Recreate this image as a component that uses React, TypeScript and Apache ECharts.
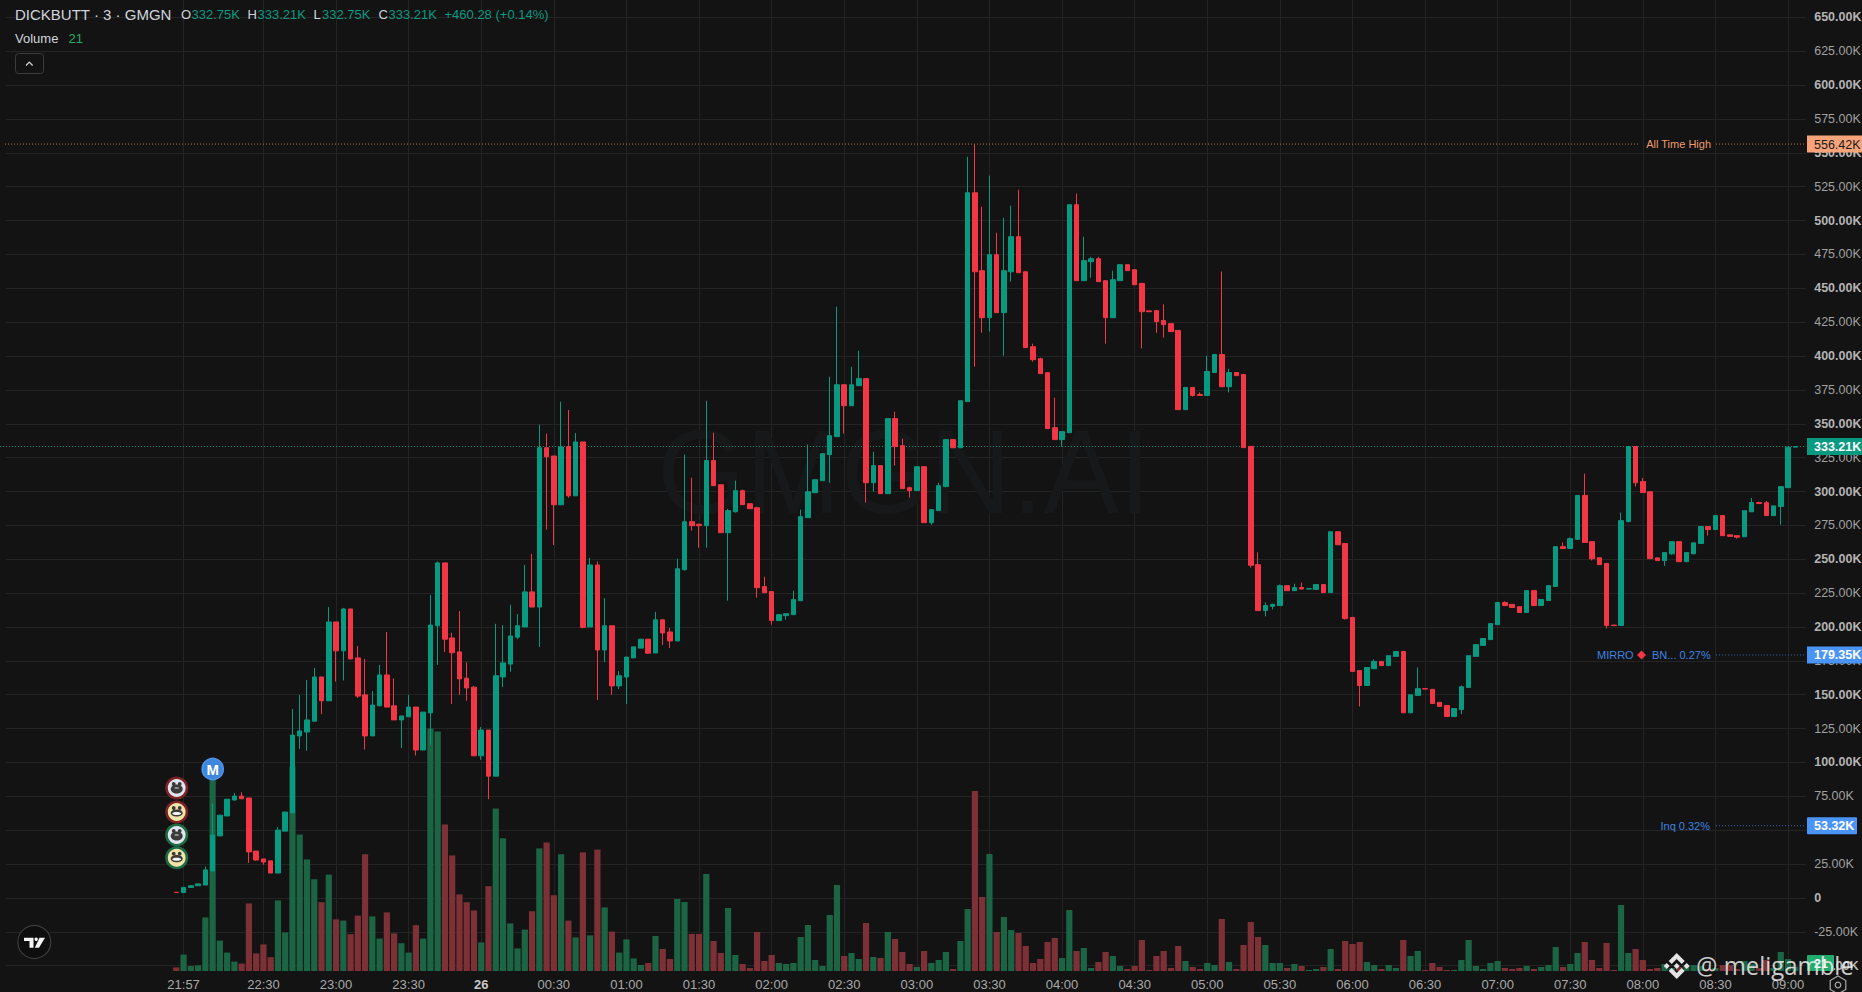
import React, { useEffect, useRef } from "react";
import * as echarts from "echarts";

// Values are in thousands (K)
const opens = [
  4.2,4,7.8,9,9.5,19.9,45.8,60.5,72.3,75.2,
  73.8,34.6,28.8,27.4,18.4,49.3,62.8,119.6,122.5,130.5,
  163.1,145.5,203.7,182.4,213.3,177.2,149.9,119.6,141.8,164.6,
  141.8,131.4,133.7,140.9,109.2,136.6,200.9,247.3,191.9,181.6,
  162.2,155.6,104.9,123.9,89.9,163.1,172.6,192.5,200,225.9,
  214.7,332.3,326.2,290.2,333.1,296.8,336.6,200,245.8,183,
  200.9,156.5,163.1,177.2,184.4,191,180.8,205.3,196.3,189.7,
  242.3,277.7,275.8,274.8,322.8,305,269.6,285.1,300.6,291,
  288,229.8,226.1,204.7,208.4,209.1,219.4,280.7,299.1,308,
  327.2,340.5,378.8,363.3,378.1,383.3,306.5,319.1,298.4,353.8,
  333.8,302.8,300.6,318.3,277,285.9,303.6,338.3,332.3,366.3,
  520.5,463,428.3,474.8,432,462.2,488.1,462.2,406.9,398,
  387.7,347.1,338.3,343.4,511.7,455.6,469.6,471.8,455.6,428.3,
  455.6,467.4,463.7,453.6,433.3,433.5,426.2,423.9,418.9,360.4,
  376.8,371.7,370.9,387.8,401.1,377.3,387.8,386.4,333.3,246,
  212.1,215.3,215.8,230.5,226.8,229.1,228,227.7,231.3,225.4,
  270.3,261.6,207.1,167.8,156.8,169.2,174.6,171.5,178.3,181.9,
  136.7,149.5,154.5,154,144.4,142.1,133.9,139,155.4,178.3,
  186.4,190.7,201.7,218.1,216.7,215,210.7,226.8,215.8,219.5,
  229.9,259.3,257.9,264.7,297.1,263,251.1,246.9,201.4,201.1,
  277.7,333.2,307.3,299.8,251,249,254,263,248.2,254,
  261.6,274.1,271.9,282.2,268,267.4,266.6,285,291.9,291.7,
  282.2,288.9,302.8,332.75,
];
const closes = [
  4,7.8,9,10.4,20.7,46.4,61.1,72.9,75.2,73.2,
  34,28,26.5,18.4,50.1,63.4,120.2,123.3,131.4,163.1,
  145.5,203.7,182.4,213.3,176.4,149,119.6,142.4,164.6,140.9,
  131.4,134.3,140.9,109.2,137.2,201.4,247.3,191,181,161.7,
  155,104.9,123.9,89.9,164,173.5,193.4,200.9,225.9,214.7,
  332.3,325.6,290.2,332.9,296.8,336.6,199.7,245.8,183,200.9,
  156.5,164,177.8,185.3,191,180.7,205.3,195.6,189.7,243,
  277.7,274.8,274.8,322.8,304.3,269.6,285.9,300.6,290.3,287.3,
  229,225.3,204.7,209.1,209.8,220.2,281.4,299.9,308.7,327.9,
  341.2,378.8,363.3,378.8,383.3,306.5,319.1,298.4,353.8,333.1,
  302.1,300.6,318.3,277,286.6,304.3,338.3,332.3,367,520.5,
  462.2,428.3,474.8,432,463,488.1,461.5,406.2,397.3,387,
  346.4,338.3,344.2,511.7,455.6,470.4,471.8,454.9,428.3,456.3,
  467.4,463,452.6,432.7,432.7,425.4,423.1,418,360.4,376.8,
  370.9,370.9,388.6,401.1,377.3,387.8,385.5,332.4,245.5,212.1,
  215.8,216.7,230.5,226.8,229.1,228,228.3,231.3,225.4,270.3,
  260.7,206.2,167.2,156.8,170.1,174.6,171.5,178.8,181.9,136.7,
  150,154.5,154.2,143.5,141.3,133.9,139.8,155.9,178.8,187,
  191.5,202.5,218.1,215.8,214.4,210.7,226.8,215.8,220.3,230.5,
  259.3,257.9,265.2,297.1,262.4,250.3,246,201.1,201,278.5,
  333.2,306.4,299.2,250.4,249,254.9,263,248.2,254.9,262.1,
  274.1,271.9,282.2,267.4,266.9,266.3,285.8,291.9,291.1,282.2,
  289.4,303.6,332.75,333.21,
];
const highs = [
  4.2,7.8,9,10.4,23.3,69.7,61.1,72.9,77.5,78,
  73.8,34.6,28.8,27.4,52.2,63.4,139.5,149.9,160.8,169.7,
  163.1,214.7,203.7,214.1,213.3,185.9,176.4,152.7,172,196.3,
  162,134.3,149.9,140.9,137.2,223.6,248.4,247.3,195.7,211.8,
  174,156.5,126.2,123.9,202.3,201.4,216.4,209.5,245.8,253.9,
  349.3,342.7,326.2,366.3,360.2,343.2,336.6,251,248.4,221.3,
  200.9,167.4,177.8,185.9,191,191,211.2,205.3,199.3,250.4,
  327.2,310.2,276.3,367,343.4,305,287.3,308,301.4,291,
  288.8,237.1,226.1,209.1,209.8,226.8,286.6,334.6,308.7,327.9,
  384.7,436.4,378.8,392.1,403.9,383.3,329.4,319.1,353.8,358.9,
  339,303.6,318.3,318.3,286.6,306.5,338.3,338.3,367,547.1,
  556.42,510.2,533.1,491,502.1,511,522.8,462.2,409.1,398.8,
  387.7,369.2,344.2,511.7,519.8,488.1,473.3,473.3,455.6,463,
  467.4,467.4,463.7,453.6,433.3,433.5,438.1,423.9,418.9,376.8,
  376.8,373.1,400.2,401.1,462.4,390.6,387.8,386.4,333.3,255.1,
  218.1,217.2,231.3,230.5,231.9,232.8,228.3,231.3,231.3,270.3,
  270.3,261.6,207.1,167.8,170.1,176,174.6,178.8,181.9,182.5,
  150,170.1,154.5,154,144.4,142.1,139.8,156.8,178.8,187,
  191.5,202.5,218.1,218.9,216.7,215,226.8,226.8,220.3,230.5,
  259.3,262.4,266.1,297.1,313.2,263,251.1,246.9,201.4,284.4,
  333.2,333.2,310,299.8,251.5,254.9,263,263,254.9,262.1,
  274.1,274.1,282.2,282.2,268,267.4,285.8,295.3,292.5,293,
  289.4,303.6,332.75,333.21,
];
const lows = [
  4,4,7.8,9,9.5,19.9,45.8,60.5,71.8,73.2,
  25.9,27.5,24.5,18.4,18.4,49.3,62.8,110,108.6,130.5,
  135.7,145.5,159.7,160.5,176.4,147.6,109.5,119.6,141.8,140.9,
  131.4,110.7,133.7,105.2,109.2,113,172,181.6,143.2,149.9,
  145.5,104.9,102,72.9,89.9,155.6,166.9,191,200,214.7,
  185.3,271.8,260.5,290.2,295.4,296.8,199,200,146.1,174.1,
  149.9,154.2,143.2,177.2,184.4,180.2,180.8,186.7,184.5,189.7,
  241.6,271.1,258.5,258.5,304.3,269.6,219.4,284.4,290.3,287.3,
  221.6,225.3,201.7,204.7,205.4,209.1,219.4,280.7,299.1,308,
  306.5,340.5,342.7,363.3,378.1,291.8,299.9,298.4,298.4,319.1,
  302.1,295.4,300.6,277,275.5,285.9,303.6,332.3,332.3,366.3,
  392.1,417.2,418,432,400.2,454.9,461.5,406.2,395.8,387,
  346.4,338.3,333.1,343.4,455.6,455.6,457.8,454.9,409.1,428.3,
  455.6,463,452.6,405.6,432.7,417.2,413.5,418,360.4,360.4,
  370,370.9,370.9,387.8,377.3,373.1,385.5,332.4,243.8,212.1,
  207.9,213,215.8,226.8,226.8,228,228,227.7,225.4,225.4,
  260.7,205.4,167.2,141.3,156.8,169.2,171.5,171.5,178.3,136.7,
  136.2,149.5,154.2,143.5,141.3,133.9,133.9,135.6,155.4,178.3,
  186.4,190.7,201.7,215.8,214.4,210.7,210.7,215.8,215.8,219.5,
  229.9,257.9,257.9,264.7,262.4,249.1,246,198.9,201,201.1,
  277.7,303.6,299.2,250.4,249,245.1,253.2,248.2,248.2,254,
  261.6,267.4,271.9,267.4,266.9,265.2,266.6,285,291.1,282.2,
  282.2,275.5,302.8,332.75,
];
const volumes = [
  18,82,25,28,268,975,152,92,47,37,
  338,88,133,69,353,193,1022,683,558,459,
  344,482,258,252,184,277,584,273,162,293,
  188,139,92,229,162,1212,1198,732,578,383,
  344,303,143,424,812,664,238,113,207,299,
  613,642,379,584,252,168,593,178,607,318,
  197,92,158,63,30,40,
  175,110,60,360,345,185,185,485,150,90,
  315,80,35,15,195,50,80,40,35,40,
  170,230,55,25,280,430,75,90,60,240,
  70,65,195,160,95,35,20,100,40,55,
  95,10,150,310,900,370,585,195,270,205,
  190,125,40,60,145,165,65,305,100,115,
  15,45,95,75,25,10,25,155,5,75,
  100,15,125,50,20,10,40,30,260,45,
  10,130,245,170,
  130,40,40,15,35,25,5,10,20,110,
  10,150,135,145,45,30,10,30,15,155,
  75,100,5,40,20,5,5,55,155,25,
  10,40,50,15,10,15,25,10,20,30,
  120,20,35,90,145,55,15,140,5,330,
  90,110,55,10,15,35,
  15,20,25,30,25,10,15,30,30,10,
  50,35,15,55,15,95,60,21,
];
const firstBarTime = "21:54";
const barMinutes = 3;
const tickLabels = ["21:57","22:30","23:00","23:30","26","00:30","01:00","01:30","02:00","02:30","03:00","03:30","04:00","04:30","05:00","05:30","06:00","06:30","07:00","07:30","08:00","08:30","09:00"];
const priceTicksMin = -50;
const priceTicksMax = 650;
const priceInterval = 25;
const allTimeHigh = 556.42;
const lastPrice = 333.21;
const mirroPrice = 179.35;
const inqPrice = 53.32;

const UP = "#089981";
const DOWN = "#f23645";
const BG = "#131313";
const GRID = "#242424";
const LEFT_PAD = 23;
const RIGHT_PAD = 1;
const FONT = '"Liberation Sans", Arial, sans-serif';

function timeCategories(): string[] {
  const [h0, m0] = firstBarTime.split(":").map(Number);
  const start = h0 * 60 + m0;
  const out: string[] = [];
  for (let i = 0; i < opens.length; i++) {
    const t = (start + i * barMinutes) % 1440;
    const hh = String(Math.floor(t / 60)).padStart(2, "0");
    const mm = String(t % 60).padStart(2, "0");
    out.push(hh + ":" + mm);
  }
  return out;
}

function fmtPrice(v: number): string {
  if (v === 0) return "0";
  return v.toFixed(2) + "K";
}

function txt(x: number, y: number, text: string, fill: string, font: string, textAlign = "left", extra: any = {}) {
  return {
    type: "text",
    x,
    y,
    z: 20,
    silent: true,
    style: { text, fill, font, textAlign, textVerticalAlign: "middle", ...extra },
  };
}

function rectEl(x: number, y: number, w: number, h: number, fill: string, r = 0, z = 15, stroke?: string) {
  return {
    type: "rect",
    z,
    silent: true,
    shape: { x, y, width: w, height: h, r },
    style: stroke ? { fill, stroke, lineWidth: 1 } : { fill },
  };
}

function hLine(x1: number, x2: number, y: number, stroke: string, z = 1) {
  return {
    type: "line",
    z,
    silent: true,
    shape: { x1, y1: y, x2, y2: y },
    style: { stroke, lineWidth: 1, lineDash: [1, 2] },
  };
}

function poly(points: number[][], fill: string, cx = 0, cy = 0, z = 25, opacity = 1) {
  return {
    type: "polygon",
    z,
    silent: true,
    shape: { points: points.map(([a, b]) => [a + cx, b + cy]) },
    style: { fill, opacity },
  };
}

function avatar(cx: number, cy: number, border: string, face: string, cream: boolean) {
  const inner: any[] = [
    { type: "circle", z: 12, silent: true, shape: { cx, cy, r: 10.2 }, style: { fill: face, stroke: border, lineWidth: 2.6 } },
    { type: "ellipse", z: 13, silent: true, shape: { cx, cy: cy + 1, rx: 6, ry: cream ? 3.6 : 4.6 }, style: { fill: "#3b3b3b" } },
    { type: "circle", z: 13, silent: true, shape: { cx: cx - 3, cy: cy - 4, r: 1.9 }, style: { fill: "#3b3b3b" } },
    { type: "circle", z: 13, silent: true, shape: { cx: cx + 3, cy: cy - 4, r: 1.9 }, style: { fill: "#3b3b3b" } },
  ];
  if (cream) {
    inner.push({ type: "ellipse", z: 14, silent: true, shape: { cx, cy: cy + 1.5, rx: 4.5, ry: 1.5 }, style: { fill: "#f4f4f4" } });
  } else {
    inner.push({ type: "rect", z: 14, silent: true, shape: { x: cx - 2, y: cy - 1, width: 4, height: 2 }, style: { fill: "#8d8d8d" } });
  }
  return inner;
}

export default function App() {
  const ref = useRef<HTMLDivElement>(null);

  useEffect(() => {
    document.body.style.margin = "0";
    document.body.style.background = BG;
    const chart = echarts.init(ref.current!, undefined, { renderer: "svg" });

    const times = timeCategories();
    const cats = [
      ...Array.from({ length: LEFT_PAD }, (_, i) => "p" + i),
      ...times,
      ...Array.from({ length: RIGHT_PAD }, (_, i) => "q" + i),
    ];
    const tickIdx = new Set<number>();
    const displayed: Record<number, string> = {};
    tickLabels.forEach((t) => {
      const name = t === "26" ? "00:00" : t;
      const k = times.indexOf(name);
      if (k >= 0) {
        tickIdx.add(k + LEFT_PAD);
        displayed[k + LEFT_PAD] = t;
      }
    });

    const padL = Array.from({ length: LEFT_PAD }, () => ["-", "-", "-", "-"]);
    const padR = Array.from({ length: RIGHT_PAD }, () => ["-", "-", "-", "-"]);
    const candleData = [
      ...padL,
      ...opens.map((o, i) => [o, closes[i], lows[i], highs[i]]),
      ...padR,
    ];
    const volData = [
      ...padL.map(() => "-"),
      ...volumes.map((v, i) => ({
        value: v,
        itemStyle: { color: closes[i] >= opens[i] ? "#1b6545" : "#7d3137" },
      })),
      ...padR.map(() => "-"),
    ];

    const gridLeft = 5.7;
    const gridWidth = 1800.5;

    const axisHidden = {
      axisLine: { show: false },
      axisTick: { show: false },
    };

    chart.setOption({
      animation: false,
      backgroundColor: BG,
      textStyle: { fontFamily: FONT },
      grid: [
        { left: gridLeft, width: gridWidth, top: 17.3, height: 948.4, outerBoundsMode: "none" },
        { left: gridLeft, width: gridWidth, top: 0, height: 971, outerBoundsMode: "none" },
      ],
      xAxis: [
        {
          type: "category",
          gridIndex: 0,
          data: cats,
          boundaryGap: true,
          show: false,
        },
        {
          type: "category",
          gridIndex: 1,
          data: cats,
          boundaryGap: true,
          ...axisHidden,
          axisLabel: {
            show: true,
            interval: (i: number) => tickIdx.has(i),
            margin: 7,
            color: "#a9a9a9",
            fontSize: 13,
            fontFamily: FONT,
            hideOverlap: false,
            formatter: (_: string, i: number) => {
              const t = displayed[i] ?? "";
              return t === "26" ? "{b|26}" : t;
            },
            rich: { b: { fontWeight: "bold", color: "#c8c8c8", fontSize: 13, fontFamily: FONT } },
          },
          splitLine: {
            show: true,
            interval: (i: number) => tickIdx.has(i),
            alignWithLabel: true,
            lineStyle: { color: GRID, width: 1 },
          },
        },
      ],
      yAxis: [
        {
          type: "value",
          gridIndex: 0,
          position: "right",
          min: priceTicksMin,
          max: priceTicksMax,
          interval: priceInterval,
          ...axisHidden,
          axisLabel: {
            margin: 8,
            align: "left",
            fontFamily: FONT,
            formatter: (v: number) => {
              const s = fmtPrice(v);
              return v % 50 === 0 ? `{b|${s}}` : `{r|${s}}`;
            },
            rich: {
              b: { fontWeight: "bold", color: "#b4b4b4", fontSize: 12.5, fontFamily: FONT },
              r: { color: "#a0a0a0", fontSize: 12.5, fontFamily: FONT },
            },
          },
          splitLine: { show: true, lineStyle: { color: GRID, width: 1 } },
        },
        {
          type: "value",
          gridIndex: 1,
          min: 0,
          max: 4855,
          show: false,
          splitLine: { show: false },
        },
      ],
      series: [
        {
          name: "Volume",
          type: "bar",
          xAxisIndex: 1,
          yAxisIndex: 1,
          barWidth: 6.2,
          z: 1,
          data: volData,
        },
        {
          name: "Price",
          type: "candlestick",
          xAxisIndex: 0,
          yAxisIndex: 0,
          barWidth: 5,
          z: 3,
          itemStyle: {
            color: UP,
            color0: DOWN,
            borderColor: UP,
            borderColor0: DOWN,
            borderWidth: 1,
          },
          data: candleData,
        },
      ],
    });

    const py = (v: number) => chart.convertToPixel({ yAxisIndex: 0 }, v) as number;
    const yAth = py(allTimeHigh);
    const yLast = py(lastPrice);
    const yMirro = py(mirroPrice);
    const yInq = py(inqPrice);
    const tagFont = `12.5px ${FONT}`;
    const tagBold = `bold 12.5px ${FONT}`;
    const smallFont = `11px ${FONT}`;
    const labelBlue = "#3f83e0";

    const binance: any[] = [
      poly([[0,-13],[8,-5],[5,-2],[0,-7],[-5,-2],[-8,-5]], "#e4e4e4", 1676.7, 966, 30),
      poly([[0,13],[8,5],[5,2],[0,7],[-5,2],[-8,5]], "#e4e4e4", 1676.7, 966, 30),
      poly([[-13,0],[-10,-3],[-7,0],[-10,3]], "#e4e4e4", 1676.7, 966, 30),
      poly([[13,0],[10,-3],[7,0],[10,3]], "#e4e4e4", 1676.7, 966, 30),
      poly([[0,-3],[3,0],[0,3],[-3,0]], "#e4e4e4", 1676.7, 966, 30),
    ];

    const hex = [] as number[][];
    for (let k = 0; k < 6; k++) {
      const a = (Math.PI / 3) * k + Math.PI / 6;
      hex.push([1838 + 9 * Math.cos(a), 985 + 9 * Math.sin(a)]);
    }

    chart.setOption({
      graphic: {
        elements: [
          // big faint watermark
          {
            type: "text",
            x: 904,
            y: 472,
            z: 0,
            silent: true,
            scaleX: 0.965,
            style: {
              text: "GMGN.AI",
              fill: "#17181a",
              font: `118px ${FONT}`,
              textAlign: "center",
              textVerticalAlign: "middle",
            },
          },
          // price lines
          hLine(5, 1639, yAth, "#b56f4b", 4),
          hLine(1716, 1804, yAth, "#b56f4b", 4),
          hLine(0, 1806, yLast, "#0b8a74", 1),
          hLine(1716, 1804, yMirro, "#3468b0", 4),
          hLine(1716, 1804, yInq, "#3468b0", 4),

          // inline labels
          txt(1711, yAth - 0.5, "All Time High", "#ee9a70", smallFont, "right"),
          txt(1597, yMirro, "MIRRO", labelBlue, smallFont),
          poly([[0,-4.5],[4.5,0],[0,4.5],[-4.5,0]], "#f23645", 1641.5, yMirro),
          txt(1652, yMirro, "BN... 0.27%", labelBlue, smallFont),
          txt(1710, yInq, "Inq 0.32%", labelBlue, smallFont, "right"),

          // right tags
          rectEl(1807, yAth - 8.5, 55, 17, "#f7a47a"),
          txt(1814, yAth + 0.5, "556.42K", "#1a1a1a", tagFont),
          rectEl(1807, yLast - 8.5, 55, 17, UP),
          txt(1814, yLast + 0.5, "333.21K", "#ffffff", tagBold),
          rectEl(1807, yMirro - 8.5, 55, 17, "#4a94f8"),
          txt(1814, yMirro + 0.5, "179.35K", "#ffffff", tagBold),
          rectEl(1807, yInq - 8.5, 50, 17, "#4a94f8", 1),
          txt(1814, yInq + 0.5, "53.32K", "#ffffff", tagBold),
          rectEl(1807, 955, 27, 16, "#22ab6a", 1),
          txt(1814, 963.5, "21", "#ffffff", tagBold),

          // legend
          txt(15, 14.5, "DICKBUTT · 3 · GMGN", "#d1d4dc", `15px ${FONT}`),
          txt(181, 14.5, "O", "#d1d4dc", `13px ${FONT}`),
          txt(191.5, 14.5, "332.75K", UP, `13px ${FONT}`),
          txt(247.5, 14.5, "H", "#d1d4dc", `13px ${FONT}`),
          txt(257.5, 14.5, "333.21K", UP, `13px ${FONT}`),
          txt(313.5, 14.5, "L", "#d1d4dc", `13px ${FONT}`),
          txt(322, 14.5, "332.75K", UP, `13px ${FONT}`),
          txt(378.5, 14.5, "C", "#d1d4dc", `13px ${FONT}`),
          txt(388.5, 14.5, "333.21K", UP, `13px ${FONT}`),
          txt(444.5, 14.5, "+460.28 (+0.14%)", UP, `13px ${FONT}`),
          txt(15, 38.5, "Volume", "#d1d4dc", `13px ${FONT}`),
          txt(68.5, 38.5, "21", "#22ab6a", `13px ${FONT}`),
          rectEl(15.5, 53.5, 28, 20, BG, 3, 15, "#3c3c3c"),
          {
            type: "polyline",
            z: 16,
            silent: true,
            shape: { points: [[26, 65.5], [29.3, 62], [32.6, 65.5]] },
            style: { stroke: "#d1d4dc", lineWidth: 1.2, fill: "none" },
          },

          // M marker
          { type: "circle", z: 16, silent: true, shape: { cx: 212.7, cy: 769, r: 10.6 }, style: { fill: "#3f86dd", stroke: "#4f94e8", lineWidth: 1.6 } },
          txt(212.7, 769.5, "M", "#ffffff", `bold 15px ${FONT}`, "center"),

          // avatars
          ...avatar(176.7, 788, "#7a2226", "#dfe4ee", false),
          ...avatar(176.7, 812, "#7a2226", "#f2e3a6", true),
          ...avatar(176.7, 835, "#1c6b45", "#dfe4ee", false),
          ...avatar(176.7, 857.7, "#1c6b45", "#f2e3a6", true),

          // TradingView badge
          { type: "circle", z: 16, silent: true, shape: { cx: 34.3, cy: 942, r: 16.5 }, style: { fill: "#0e0e0e", stroke: "#3c3c3c", lineWidth: 1.2 } },
          poly([[24,937.7],[33.5,937.7],[33.5,947.7],[29.5,947.7],[29.5,941],[24,941]], "#f4f4f4", 0, 0, 17),
          { type: "circle", z: 17, silent: true, shape: { cx: 36.2, cy: 939.2, r: 1.7 }, style: { fill: "#f4f4f4" } },
          poly([[39.5,937.7],[45,937.7],[39,947.7],[34.8,947.7]], "#f4f4f4", 0, 0, 17),

          // bottom-right mark
          ...binance,
          {
            type: "text",
            x: 1696,
            y: 965,
            z: 30,
            silent: true,
            scaleX: 0.92,
            style: {
              text: "@ meligamble",
              fill: "rgba(238,238,238,0.85)",
              font: `26px "Open Sans", ${FONT}`,
              textAlign: "left",
              textVerticalAlign: "middle",
            },
          },

          // settings glyph
          { type: "polygon", z: 20, silent: true, shape: { points: hex }, style: { fill: "none", stroke: "#a9a9a9", lineWidth: 1.2 } },
          { type: "circle", z: 20, silent: true, shape: { cx: 1838, cy: 985, r: 2.8 }, style: { fill: "none", stroke: "#a9a9a9", lineWidth: 1.2 } },
        ],
      },
    });

    return () => chart.dispose();
  }, []);

  return <div ref={ref} style={{ width: 1862, height: 992, position: "fixed", left: 0, top: 0 }} />;
}
